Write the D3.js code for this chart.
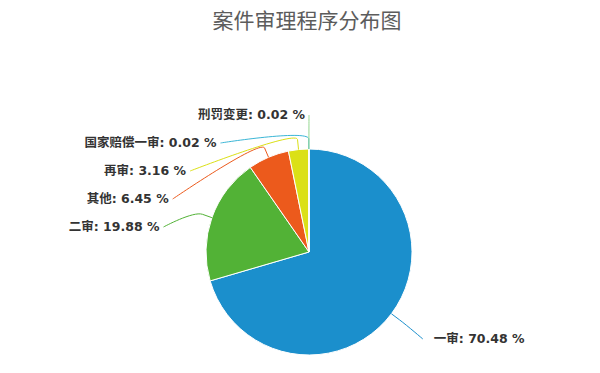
<!DOCTYPE html>
<html>
<head>
<meta charset="utf-8">
<script src="https://d3js.org/d3.v7.min.js"></script>
<style>
  body { margin: 0; background: #fff; }
  svg { display: block; }
  .title { font-family: "DejaVu Sans", "Noto Sans CJK SC", sans-serif; font-size: 21px; fill: #5c5c5c; }
  .label { font-family: "DejaVu Sans", "Noto Sans CJK SC", sans-serif; font-size: 12.5px; font-weight: bold; fill: #333; }
</style>
</head>
<body>
<svg width="600" height="373"></svg>
<script>
// the data
let categories = ["一审", "二审", "其他", "再审", "国家赔偿一审", "刑罚变更"];
let percents = [70.48, 19.88, 6.45, 3.16, 0.02, 0.02];
let titleText = "案件审理程序分布图";

// slice colours (kept apart from the data)
let palette = ["#1b8fcc", "#52b236", "#ec5a1c", "#dbe016", "#3bb6d6", "#93d68f"];

let svg = d3.select("body").select("svg");
console.assert(svg.size() == 1);

// layout
let cx = 309, cy = 252, radius = 103;
let labelDist = 42;    // natural label y sits on radius + this
let labelRx = 148;     // labels slide along this oval once pushed
let labelRy = 136;
let breakDist = 10;    // where the connector bends
let labelGap = 28;     // min vertical spacing between stacked labels
let labelTop = 115;    // labels cannot go higher than this
let padLeft = 4, padRight = 11;

svg.append("text")
  .attr("class", "title")
  .attr("x", 307)
  .attr("y", 28)
  .attr("text-anchor", "middle")
  .text(titleText);

let data = categories.map((c, i) => ({ name: c, value: percents[i] }));

let color = d3.scaleOrdinal().domain(categories).range(palette);

// start at 12 o'clock, go clockwise, keep the order
let pie = d3.pie().sort(null).value(d => d.value);
let arcs = pie(data);

let arc = d3.arc().innerRadius(0).outerRadius(radius);

let plot = svg.append("g")
  .attr("transform", "translate(" + cx + "," + cy + ")");

plot.selectAll("path.slice")
  .data(arcs)
  .enter().append("path")
  .attr("class", "slice")
  .attr("d", arc)
  .attr("fill", d => color(d.data.name))
  .attr("stroke", "#fff")
  .attr("stroke-width", 1)
  .attr("stroke-linejoin", "round");

// point on a circle for an angle measured clockwise from the top
let polar = function(a, r) {
  return [Math.sin(a) * r, -Math.cos(a) * r];
};

// natural label positions
arcs.forEach(d => {
  d.mid = (d.startAngle + d.endAngle) / 2;
  d.left = Math.sin(d.mid) < 0;
  d.ly = polar(d.mid, radius + labelDist)[1];
});

// push stacked labels apart, top down, per side
["left", "right"].forEach(side => {
  let group = arcs.filter(d => (side == "left") == d.left)
    .sort((a, b) => a.ly - b.ly);
  let prev = -Infinity;
  group.forEach(d => {
    d.ly = Math.max(d.ly, prev + labelGap, labelTop - cy);
    prev = d.ly;
  });
});

// x follows the oval at the final y
arcs.forEach(d => {
  let s = Math.max(-1, Math.min(1, d.ly / labelRy));
  d.lx = (d.left ? -1 : 1) * Math.cos(Math.asin(s)) * labelRx;
});

// soft connectors
plot.selectAll("path.connector")
  .data(arcs)
  .enter().append("path")
  .attr("class", "connector")
  .attr("fill", "none")
  .attr("stroke", d => color(d.data.name))
  .attr("stroke-width", 1)
  .attr("d", d => {
    let b = polar(d.mid, radius + breakDist);
    let t = polar(d.mid, radius);
    let p = d3.path();
    p.moveTo(d.lx, d.ly);
    p.bezierCurveTo(d.lx, d.ly, 2 * b[0] - t[0], 2 * b[1] - t[1], b[0], b[1]);
    p.lineTo(t[0], t[1]);
    return p.toString();
  });

plot.selectAll("text.label")
  .data(arcs)
  .enter().append("text")
  .attr("class", "label")
  .attr("x", d => d.lx + (d.left ? -padLeft : padRight))
  .attr("y", d => d.ly)
  .attr("dy", "0.35em")
  .attr("text-anchor", d => d.left ? "end" : "start")
  .text(d => d.data.name + ": " + d3.format(".2f")(d.data.value) + " %");
</script>
</body>
</html>
